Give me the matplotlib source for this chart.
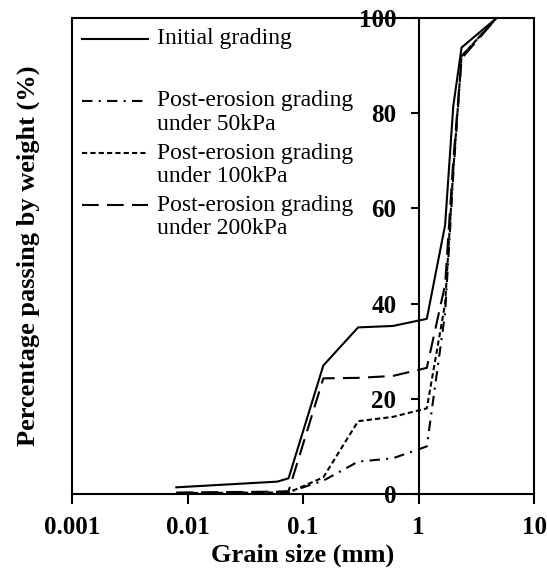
import matplotlib.pyplot as plt
from matplotlib.lines import Line2D
from matplotlib.patches import Rectangle

plt.rcParams['font.family'] = ['Liberation Serif', 'DejaVu Serif']

# sieve sizes (mm) and percentage passing
sizes = [0.008, 0.06, 0.075, 0.15, 0.3, 0.6, 1.18, 1.7, 2.0, 2.36, 4.75]
initial = [1.4, 2.6, 3.3, 27.0, 35.0, 35.3, 36.8, 56.5, 81.5, 93.8, 100]
kpa50 = [0.2, 0.3, 0.4, 2.8, 6.8, 7.5, 10.0, 38.0, 67.0, 92.0, 100]
kpa100 = [0.2, 0.3, 0.3, 3.5, 15.3, 16.2, 18.0, 40.0, 68.0, 92.0, 100]
kpa200 = [0.3, 0.5, 0.6, 24.3, 24.4, 24.8, 26.5, 44.0, 70.0, 91.5, 100]

labels = [['Initial grading'],
          ['Post-erosion grading', 'under 50kPa'],
          ['Post-erosion grading', 'under 100kPa'],
          ['Post-erosion grading', 'under 200kPa']]
styles = ['-', (0, (5, 3, 1, 3)), (0, (2.5, 1.5)), (0, (8, 4))]
series = [initial, kpa50, kpa100, kpa200]

fig = plt.figure(figsize=(5.47, 5.70), dpi=100)
ax = fig.add_axes([72/547, 1-494/570, 462/547, 476/570])

for vals, ls in zip(series, styles):
    ax.plot(sizes, vals, color='black', lw=1.5, linestyle=ls)

ax.set_xscale('log')
ax.set_xlim(0.001, 10)
ax.set_ylim(0, 100)
ax.set_xticks([0.001, 0.01, 0.1, 1, 10])
ax.set_xticklabels(['0.001', '0.01', '0.1', '1', '10'])
ax.minorticks_off()
ax.set_yticks([0, 20, 40, 60, 80, 100])

# y axis sits at 1 mm, the frame is drawn separately
ax.spines['left'].set_position(('data', 1))
ax.spines['left'].set_linewidth(1.5)
for s in ['top', 'right', 'bottom']:
    ax.spines[s].set_visible(False)
ax.add_patch(Rectangle((0, 0), 1, 1, transform=ax.transAxes, fill=False,
                       lw=1.5, ec='black', clip_on=False, zorder=3))

ax.tick_params(axis='x', direction='out', length=7, width=1.5, pad=9,
               labelsize=18)
ax.tick_params(axis='y', direction='out', length=6, width=1.5, pad=10,
               labelsize=18)
for t in ax.get_xticklabels() + ax.get_yticklabels():
    t.set_fontweight('bold')

ax.set_xlabel('Grain size (mm)', fontsize=19, fontweight='bold', labelpad=3)
fig.text(28/547, 1-256/570, 'Percentage passing by weight (%)', rotation=90,
         fontsize=19, fontweight='bold', ha='center', va='center')

# legend, one text per line
leg_y = [0.956, 0.826, 0.716, 0.607]
line_gap = 0.050
for y, lines, ls in zip(leg_y, labels, styles):
    ax.add_line(Line2D([0.022, 0.165], [y, y], transform=ax.transAxes,
                       color='black', lw=1.5, linestyle=ls))
    for i, txt in enumerate(lines):
        ax.text(0.184, y - i * line_gap, txt, transform=ax.transAxes,
                fontsize=17, va='center', ha='left')

fig.savefig('out.png', dpi=100)
